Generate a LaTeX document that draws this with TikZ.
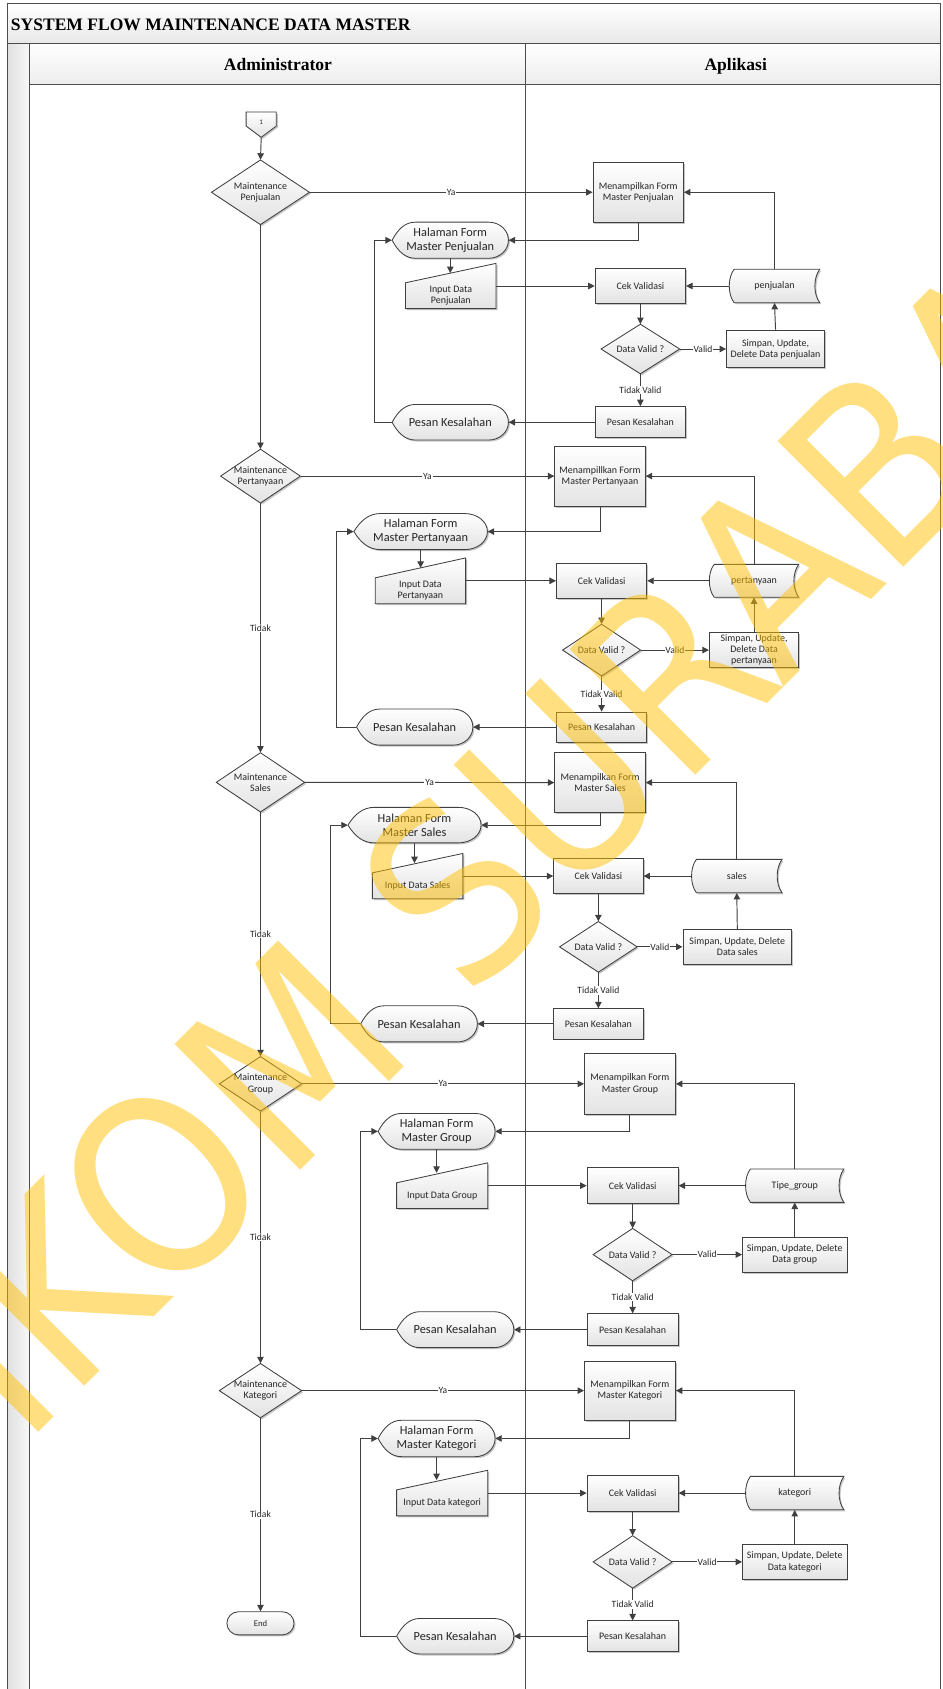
\documentclass[tikz,border=0pt]{standalone}
\usepackage{fontspec}
\setmainfont{Carlito}
\newfontfamily\headfont{Liberation Serif}
\newfontfamily\markfont{DejaVu Sans}
\usetikzlibrary{arrows.meta,shadows,calc}

\definecolor{lc}{HTML}{404040}
\definecolor{tc}{HTML}{262626}
\definecolor{wmk}{RGB}{255,192,0}

\newcommand\upx{1.0777bp}

\tikzset{
  frm/.style={draw=black!70, line width=1pt},
  ln/.style={draw=lc, line width=0.95pt},
  arr/.style={ln, -{Triangle[length=6.5pt,width=6.5pt]}},
  shp/.style={draw=lc, line width=0.85pt, top color=white, bottom color=black!11,
    drop shadow={shadow xshift=1.5pt, shadow yshift=-1.5pt, fill=black!45, opacity=0.5}},
  sm/.style={font=\fontsize{10}{11.2}\selectfont, text=tc, align=center, inner sep=0pt},
  lg/.style={font=\fontsize{12.4}{14}\selectfont, text=tc, align=center, inner sep=0pt},
  lab/.style={font=\fontsize{9.6}{11}\selectfont, text=tc, fill=white, inner sep=0.8pt},
  hd/.style={font=\headfont\bfseries\fontsize{17.6}{20}\selectfont, text=black, inner sep=0pt},
}

% process box: name, cx, cy, width, height, text
\newcommand\procbox[6]{%
  \node[shp, sm, minimum width=#4*\upx, minimum height=#5*\upx] (#1) at (#2,#3) {#6};}

% decision: name, cx, cy, half width, half height, text
\newcommand\decis[6]{%
  \path[shp] (#2,{#3-#5}) -- ({#2+#4},#3) -- (#2,{#3+#5}) -- ({#2-#4},#3) -- cycle;
  \node[sm, minimum width=2*#4*\upx, minimum height=2*#5*\upx] (#1) at (#2,#3) {#6};}

% corner values shared by the outline macros
\newcommand\boxcorners[4]{%
  \pgfmathsetmacro\dsxa{#1-#3/2}\pgfmathsetmacro\dsxb{#1+#3/2}%
  \pgfmathsetmacro\dsya{#2-#4/2}\pgfmathsetmacro\dsyb{#2+#4/2}}

% display shape: name, cx, cy, width, height, text
\newcommand\dispsh[6]{%
  \boxcorners{#2}{#3}{#4}{#5}%
  \pgfmathsetmacro\dsl{0.2*#4}\pgfmathsetmacro\dsr{0.17*#4}%
  \path[shp] (\dsxa,#3)
    .. controls ({\dsxa+0.25*\dsl},{#3-0.3*#5}) and ({\dsxa+0.55*\dsl},\dsya) .. ({\dsxa+\dsl},\dsya)
    -- ({\dsxb-\dsr},\dsya)
    .. controls ({\dsxb-0.45*\dsr},\dsya) and (\dsxb,{#3-0.28*#5}) .. (\dsxb,#3)
    .. controls (\dsxb,{#3+0.28*#5}) and ({\dsxb-0.45*\dsr},\dsyb) .. ({\dsxb-\dsr},\dsyb)
    -- ({\dsxa+\dsl},\dsyb)
    .. controls ({\dsxa+0.55*\dsl},\dsyb) and ({\dsxa+0.25*\dsl},{#3+0.3*#5}) .. (\dsxa,#3) -- cycle;
  \node[lg, minimum width=#4*\upx, minimum height=#5*\upx] (#1) at (#2,#3) {#6};}

% manual input: name, cx, cy, width, height, slant, text
\newcommand\manin[7]{%
  \boxcorners{#2}{#3}{#4}{#5}%
  \path[shp] (\dsxa,{\dsya+#6}) -- (\dsxb,\dsya) -- (\dsxb,\dsyb) -- (\dsxa,\dsyb) -- cycle;
  \node[minimum width=#4*\upx, minimum height=#5*\upx, inner sep=0pt] (#1) at (#2,#3) {};
  \coordinate (#1top) at (#2,{\dsya+#6/2});
  \node[sm] (#1txt) at (#2,{#3+#6/2}) {#7};}

% stored data: name, cx, cy, width, height, text
\newcommand\stdata[6]{%
  \boxcorners{#2}{#3}{#4}{#5}%
  \path[shp] ({\dsxa+4.5},\dsya) -- (\dsxb,\dsya)
    .. controls ({\dsxb-6},{\dsya+0.25*#5}) and ({\dsxb-6},{\dsyb-0.25*#5}) .. (\dsxb,\dsyb)
    -- ({\dsxa+4.5},\dsyb)
    .. controls ({\dsxa-1.5},{\dsyb-0.25*#5}) and ({\dsxa-1.5},{\dsya+0.25*#5}) .. ({\dsxa+4.5},\dsya) -- cycle;
  \node[sm, minimum width=#4*\upx, minimum height=#5*\upx] (#1) at (#2,#3) {#6};}

% off-page reference: name, cx, top, width, box height, tip height, text
\newcommand\offpg[7]{%
  \path[shp] ({#2-#4/2},#3) -- ({#2+#4/2},#3) -- ({#2+#4/2},{#3+#5}) -- (#2,{#3+#5+#6})
    -- ({#2-#4/2},{#3+#5}) -- cycle;
  \node[font=\fontsize{7}{8}\selectfont, text=tc, inner sep=0pt, minimum width=#4*\upx,
    minimum height=(#5+#6)*\upx] (#1) at (#2,{#3+(#5+#6)/2}) {#7};}

\begin{document}
\begin{tikzpicture}[x=1.0777bp, y=-1.0777bp]
\useasboundingbox (0,0) rectangle (875,1568);
\fill[white] (0,0) rectangle (875,1568);

% ---------- pool, title bar and lanes ----------
\shade[top color=white, bottom color=black!9] (7,3) rectangle (873.5,40.2);
\shade[top color=white, bottom color=black!7] (27.5,40.2) rectangle (873.5,78);
\shade[left color=black!12, right color=black!3] (7,40.2) rectangle (27.5,1575);
\draw[frm] (7,1575) -- (7,3) -- (873.5,3) -- (873.5,1575);
\draw[frm] (7,40.2) -- (873.5,40.2);
\draw[frm] (27.5,40.2) -- (27.5,1575);
\draw[frm] (27.5,78) -- (873.5,78);
\draw[frm] (488,40.2) -- (488,1575);
\node[hd, anchor=west] (ttl) at (10,23) {SYSTEM FLOW MAINTENANCE DATA MASTER};
\node[hd, anchor=base] (adm) at (258,65.5) {Administrator};
\node[hd, anchor=base] (apl) at (683,65.5) {Aplikasi};

% ---------- penjualan ----------
\offpg{con1}{242.5}{104}{28}{13}{10.5}{\raisebox{0.5pt}[0pt][0pt]{1}}
\decis{d1}{241.8}{178.5}{45.5}{30}{Maintenance\\Penjualan}
\procbox{m1}{592.5}{178.5}{84}{56}{Menampilkan Form\\Master Penjualan}
\dispsh{h1}{418}{223}{108}{33.5}{Halaman Form\\Master Penjualan}
\manin{i1}{418.5}{265.5}{84}{42}{18}{Input Data\\Penjualan}
\procbox{c1}{594.5}{265.5}{84}{33}{Cek Validasi}
\stdata{db1}{719}{265.5}{84}{31}{penjualan}
\decis{v1}{594.5}{324}{36.5}{23}{Data Valid ?}
\procbox{s1}{720}{324}{91}{35}{Simpan, Update,\\Delete Data penjualan}
\procbox{p1}{594.5}{392}{84}{29}{Pesan Kesalahan}
\dispsh{e1}{418}{392}{108}{33}{Pesan Kesalahan}

% ---------- pertanyaan ----------
\decis{d2}{241.8}{442}{37}{25}{Maintenance\\Pertanyaan}
\procbox{m2}{557}{442}{84}{56}{Menampillkan Form\\Master Pertanyaan}
\dispsh{h2}{390.5}{493.5}{124}{33.5}{Halaman Form\\Master Pertanyaan}
\manin{i2}{390.3}{539.2}{84}{42.5}{18.5}{Input Data\\Pertanyaan}
\procbox{c2}{558.5}{539.2}{84}{33}{Cek Validasi}
\stdata{db2}{700}{539.2}{83}{30.5}{pertanyaan}
\decis{v2}{558.5}{603.5}{36.2}{24}{Data Valid ?}
\procbox{s2}{700}{603.5}{83}{33}{Simpan, Update,\\Delete Data\\pertanyaan}
\procbox{p2}{558.5}{675}{84}{28}{Pesan Kesalahan}
\dispsh{e2}{385}{675}{108}{33.5}{Pesan Kesalahan}

% ---------- sales ----------
\decis{d3}{241.8}{726.3}{41}{27.5}{Maintenance\\Sales}
\procbox{m3}{557}{726.5}{84}{56}{Menampilkan Form\\Master Sales}
\dispsh{h3}{384.8}{766}{123.6}{33}{Halaman Form\\Master Sales}
\manin{i3}{387.7}{813.3}{84}{42}{18}{Input Data Sales}
\procbox{c3}{555.5}{813.3}{83}{32}{Cek Validasi}
\stdata{db3}{684}{813.3}{84}{31}{sales}
\decis{v3}{555.5}{879}{36}{23.5}{Data Valid ?}
\procbox{s3}{684.5}{879}{101}{32}{Simpan, Update, Delete\\Data sales}
\procbox{p3}{555.5}{950.5}{84}{28}{Pesan Kesalahan}
\dispsh{e3}{389}{950.5}{108.3}{33.5}{Pesan Kesalahan}

% ---------- group ----------
\decis{d4}{241.8}{1006.2}{38.2}{25.3}{Maintenance\\Group}
\procbox{m4}{584.8}{1006.2}{84.5}{56.3}{Menampilkan Form\\Master Group}
\dispsh{h4}{405.3}{1050.3}{108.6}{33.3}{Halaman Form\\Master Group}
\manin{i4}{410.5}{1100.7}{84.5}{42.3}{18.5}{Input Data Group}
\procbox{c4}{587.3}{1100.7}{84.6}{33.2}{Cek Validasi}
\stdata{db4}{737.8}{1100.7}{91.3}{31}{Tipe\_group}
\decis{v4}{587.3}{1164.7}{36.6}{24.3}{Data Valid ?}
\procbox{s4}{737.8}{1164.7}{97}{32.5}{Simpan, Update, Delete\\Data group}
\procbox{p4}{587.3}{1234.4}{84.6}{29.6}{Pesan Kesalahan}
\dispsh{e4}{422.6}{1234.4}{108.8}{33.4}{Pesan Kesalahan}

% ---------- kategori ----------
\decis{d5}{241.8}{1291}{38.2}{25.2}{Maintenance\\Kategori}
\procbox{m5}{584.8}{1291}{84.5}{55}{Menampilkan Form\\Master Kategori}
\dispsh{h5}{405.3}{1335.4}{108.6}{33.8}{Halaman Form\\Master Kategori}
\manin{i5}{410.5}{1386.1}{84.5}{42.3}{18.2}{Input Data kategori}
\procbox{c5}{587.3}{1386.1}{84.6}{33.4}{Cek Validasi}
\stdata{db5}{737.8}{1386.1}{91.3}{31}{kategori}
\decis{v5}{587.3}{1450}{36.6}{24.3}{Data Valid ?}
\procbox{s5}{737.8}{1450}{97}{33}{Simpan, Update, Delete\\Data kategori}
\procbox{p5}{587.3}{1519}{84.6}{28.5}{Pesan Kesalahan}
\dispsh{e5}{422.6}{1519}{108.8}{33}{Pesan Kesalahan}
\node[shp, sm, font=\fontsize{8.7}{10}\selectfont, minimum width=62.3*\upx,
  minimum height=21.4*\upx, rounded corners=11.5bp] (endn) at (241.8,1507) {End};

% ---------- connectors ----------
\draw[arr] (con1.south) -- (d1.north);
\draw[arr] (d1.south) -- (d2.north);
\draw[arr] (d2.south) -- node[lab] (t2) {Tidak} (d3.north);
\draw[arr] (d3.south) -- node[lab] (t3) {Tidak} (d4.north);
\draw[arr] (d4.south) -- node[lab] (t4) {Tidak} (d5.north);
\draw[arr] (d5.south) -- node[lab] (t5) {Tidak} (endn.north);

\draw[arr] (d1.east) -- node[lab] (ya1) {Ya} (m1.west);
\draw[arr] (m1.south) |- (h1.east);
\draw[arr] (h1.south) -- (h1.south |- i1top);
\draw[arr] (i1.east) -- (c1.west);
\draw[arr] (db1.west) -- (c1.east);
\draw[arr] (db1.north) |- (m1.east);
\draw[arr] (c1.south) -- (v1.north);
\draw[arr] (v1.east) -- node[lab] (ok1) {Valid} (s1.west);
\draw[arr] (s1.north) -- (db1.south);
\draw[arr] (v1.south) -- node[lab] (no1) {Tidak Valid} (p1.north);
\draw[arr] (p1.west) -- (e1.east);
\draw[arr] (e1.west) -- ++(-16.5,0) |- (h1.west);

\draw[arr] (d2.east) -- node[lab] (ya2) {Ya} (m2.west);
\draw[arr] (m2.south) |- (h2.east);
\draw[arr] (h2.south) -- (h2.south |- i2top);
\draw[arr] (i2.east) -- (c2.west);
\draw[arr] (db2.west) -- (c2.east);
\draw[arr] (db2.north) |- (m2.east);
\draw[arr] (c2.south) -- (v2.north);
\draw[arr] (v2.east) -- node[lab] (ok2) {Valid} (s2.west);
\draw[arr] (s2.north) -- (db2.south);
\draw[arr] (v2.south) -- node[lab] (no2) {Tidak Valid} (p2.north);
\draw[arr] (p2.west) -- (e2.east);
\draw[arr] (e2.west) -- ++(-18,0) |- (h2.west);

\draw[arr] (d3.east) -- node[lab] (ya3) {Ya} (m3.west);
\draw[arr] (m3.south) |- (h3.east);
\draw[arr] (h3.south) -- (h3.south |- i3top);
\draw[arr] (i3.east) -- (c3.west);
\draw[arr] (db3.west) -- (c3.east);
\draw[arr] (db3.north) |- (m3.east);
\draw[arr] (c3.south) -- (v3.north);
\draw[arr] (v3.east) -- node[lab] (ok3) {Valid} (s3.west);
\draw[arr] (s3.north) -- (db3.south);
\draw[arr] (v3.south) -- node[lab] (no3) {Tidak Valid} (p3.north);
\draw[arr] (p3.west) -- (e3.east);
\draw[arr] (e3.west) -- ++(-28.3,0) |- (h3.west);

\draw[arr] (d4.east) -- node[lab] (ya4) {Ya} (m4.west);
\draw[arr] (m4.south) |- (h4.east);
\draw[arr] (h4.south) -- (h4.south |- i4top);
\draw[arr] (i4.east) -- (c4.west);
\draw[arr] (db4.west) -- (c4.east);
\draw[arr] (db4.north) |- (m4.east);
\draw[arr] (c4.south) -- (v4.north);
\draw[arr] (v4.east) -- node[lab] (ok4) {Valid} (s4.west);
\draw[arr] (s4.north) -- (db4.south);
\draw[arr] (v4.south) -- node[lab] (no4) {Tidak Valid} (p4.north);
\draw[arr] (p4.west) -- (e4.east);
\draw[arr] (e4.west) -- ++(-33,0) |- (h4.west);

\draw[arr] (d5.east) -- node[lab] (ya5) {Ya} (m5.west);
\draw[arr] (m5.south) |- (h5.east);
\draw[arr] (h5.south) -- (h5.south |- i5top);
\draw[arr] (i5.east) -- (c5.west);
\draw[arr] (db5.west) -- (c5.east);
\draw[arr] (db5.north) |- (m5.east);
\draw[arr] (c5.south) -- (v5.north);
\draw[arr] (v5.east) -- node[lab] (ok5) {Valid} (s5.west);
\draw[arr] (s5.north) -- (db5.south);
\draw[arr] (v5.south) -- node[lab] (no5) {Tidak Valid} (p5.north);
\draw[arr] (p5.west) -- (e5.east);
\draw[arr] (e5.west) -- ++(-33,0) |- (h5.west);

% ---------- watermark ----------
\node[rotate=45, text=wmk, opacity=0.5, inner sep=0pt,
  font=\markfont\fontsize{245}{245}\selectfont] (mark) at (456,793)
  {\scalebox{0.9}[1]{STIKOM SURABAYA}};
\end{tikzpicture}
\end{document}
